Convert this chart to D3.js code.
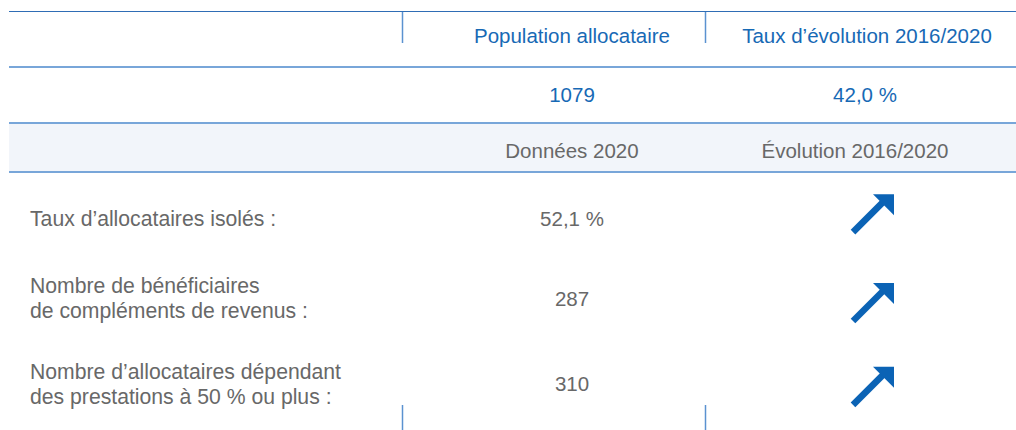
<!DOCTYPE html>
<html>
<head>
<meta charset="utf-8">
<script src="https://cdn.jsdelivr.net/npm/d3@7"></script>
<style>
  body { margin: 0; background: #fff; }
  svg text { font-family: "Liberation Sans", Arial, sans-serif; }
</style>
</head>
<body>
<div id="chart"></div>
<script>
const columns = ["label", "data", "trend"];
const headerTitles = ["Population allocataire", "Taux d’évolution 2016/2020"];
const headerValues = ["1079", "42,0 %"];
const subHeaders = ["Données 2020", "Évolution 2016/2020"];
const rowLabels = [
  ["Taux d’allocataires isolés :"],
  ["Nombre de bénéficiaires", "de compléments de revenus :"],
  ["Nombre d’allocataires dépendant", "des prestations à 50 % ou plus :"]
];
const rowValues = ["52,1 %", "287", "310"];
const rowTrend = ["up", "up", "up"];

const width = 1016, height = 430;
const blue = "#1769b5", grey = "#686868";
const fs = 20.5, fsRow = 21.2;

const svg = d3.select("#chart").append("svg")
  .attr("width", width)
  .attr("height", height);

// column centres
const x = d3.scaleOrdinal()
  .domain(columns)
  .range([30, 572, 866]);
const sep = [402.5, 705.5];
// body rows
const y = d3.scaleBand()
  .domain(d3.range(rowValues.length))
  .range([172, 428]);
const rowShift = [3.5, -2, -1.5];
const arrowShift = [-2.5, 1, -0.5];
const rowMid = i => y(i) + y.bandwidth() / 2 + rowShift[i];

// light band behind sub header
svg.append("rect")
  .attr("x", 9).attr("y", 123)
  .attr("width", width - 9).attr("height", 49)
  .attr("fill", "#f2f5fa");

// horizontal rules
svg.append("line")
  .attr("x1", 9).attr("x2", width).attr("y1", 11.5).attr("y2", 11.5)
  .attr("stroke", "#2f6db5").attr("stroke-width", 1);
[67, 123, 172].forEach(yy => {
  svg.append("line")
    .attr("x1", 9).attr("x2", width).attr("y1", yy).attr("y2", yy)
    .attr("stroke", "#78a6d9").attr("stroke-width", 2);
});

// vertical separators top and bottom
sep.forEach(sx => {
  svg.append("line")
    .attr("x1", sx).attr("x2", sx).attr("y1", 12).attr("y2", 43)
    .attr("stroke", "#5b92d0").attr("stroke-width", 1.5);
  svg.append("line")
    .attr("x1", sx).attr("x2", sx).attr("y1", 405).attr("y2", 430)
    .attr("stroke", "#5b92d0").attr("stroke-width", 1.5);
});

// header
svg.selectAll(".head")
  .data(headerTitles)
  .enter().append("text")
  .attr("x", (d, i) => x(columns[i + 1]) + (i ? 1 : 0))
  .attr("y", 42.5)
  .attr("text-anchor", "middle")
  .attr("font-size", fs)
  .attr("fill", blue)
  .text(d => d);

svg.selectAll(".headval")
  .data(headerValues)
  .enter().append("text")
  .attr("x", (d, i) => x(columns[i + 1]) - (i ? 1 : 0))
  .attr("y", 102)
  .attr("text-anchor", "middle")
  .attr("font-size", fs)
  .attr("fill", blue)
  .text(d => d);

svg.selectAll(".sub")
  .data(subHeaders)
  .enter().append("text")
  .attr("x", (d, i) => x(columns[i + 1]) - (i ? 11 : 0))
  .attr("y", 157.5)
  .attr("text-anchor", "middle")
  .attr("font-size", fs)
  .attr("fill", grey)
  .text(d => d);

// row labels
const lab = svg.selectAll(".rowlab")
  .data(rowLabels)
  .enter().append("text")
  .attr("x", x("label"))
  .attr("y", (d, i) => rowMid(i) + 7.5 - (d.length - 1) * 12.5)
  .attr("font-size", fsRow)
  .attr("fill", grey);
lab.selectAll("tspan")
  .data(d => d)
  .enter().append("tspan")
  .attr("x", x("label"))
  .attr("dy", (d, i) => i ? 25 : 0)
  .text(d => d);

// values
svg.selectAll(".val")
  .data(rowValues)
  .enter().append("text")
  .attr("x", x("data"))
  .attr("y", (d, i) => rowMid(i) + 7.5)
  .attr("text-anchor", "middle")
  .attr("font-size", fs)
  .attr("fill", grey)
  .text(d => d);

// trend arrows
const arrow = svg.selectAll(".arrow")
  .data(rowTrend)
  .enter().append("g")
  .attr("transform", (d, i) => "translate(" + (x("trend") + 7) + "," + (y(i) + y.bandwidth() / 2 - 18 + arrowShift[i]) + ")");
arrow.append("line")
  .attr("x1", -20).attr("y1", 38)
  .attr("x2", 10).attr("y2", 8)
  .attr("stroke", "#0b63b5").attr("stroke-width", 6.5);
arrow.append("path")
  .attr("d", "M0,0 L21,0 L21,21 Z")
  .attr("fill", "#0b63b5");
</script>
</body>
</html>
